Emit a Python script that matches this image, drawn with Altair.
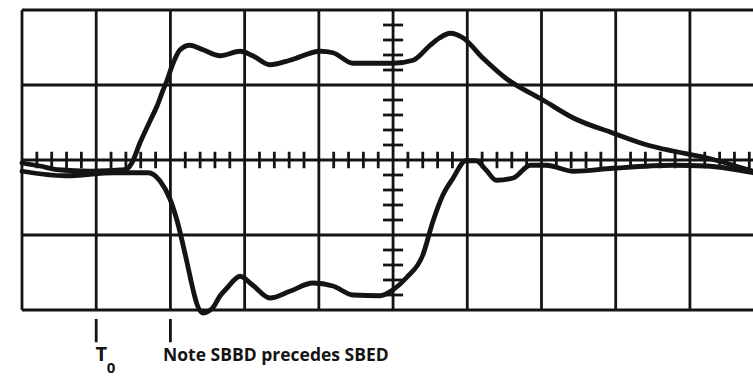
import altair as alt
import pandas as pd

# Oscilloscope screen in divisions: x 0..9.85 (right edge cut), y -2..2
upper_x = [0.00, 0.24, 0.49, 0.92, 1.39, 1.48, 1.59, 1.73, 1.82, 1.90, 1.95, 2.02, 2.13, 2.26,
           2.44, 2.67, 2.94, 3.11, 3.34, 3.61, 4.02, 4.19, 4.46, 4.82, 5.00, 5.27, 5.50, 5.63,
           5.77, 5.94, 6.21, 6.52, 7.02, 7.43, 7.96, 8.46, 8.77, 9.22, 9.85]
upper_y = [-0.04, -0.08, -0.13, -0.15, -0.13, -0.04, 0.23, 0.53, 0.72, 0.93, 1.05, 1.25, 1.47, 1.53,
           1.47, 1.39, 1.45, 1.39, 1.27, 1.33, 1.45, 1.43, 1.29, 1.29, 1.29, 1.33, 1.53, 1.63,
           1.69, 1.63, 1.36, 1.09, 0.80, 0.56, 0.36, 0.19, 0.12, 0.03, -0.15]

lower_x = [0.00, 0.58, 1.25, 1.70, 1.86, 1.99, 2.09, 2.22, 2.30, 2.36, 2.44, 2.57, 2.67, 2.76,
           2.94, 3.11, 3.34, 3.61, 3.92, 4.19, 4.46, 4.82, 5.00, 5.18, 5.40, 5.54, 5.67, 5.81,
           5.98, 6.12, 6.25, 6.39, 6.62, 6.85, 7.06, 7.43, 7.96, 8.77, 9.22, 9.85]
lower_y = [-0.15, -0.21, -0.17, -0.17, -0.28, -0.51, -0.81, -1.35, -1.71, -1.93, -2.04, -1.97, -1.81, -1.71,
           -1.55, -1.67, -1.84, -1.75, -1.64, -1.68, -1.80, -1.81, -1.73, -1.57, -1.27, -0.81, -0.47, -0.24,
           -0.01, -0.01, -0.13, -0.27, -0.24, -0.07, -0.07, -0.15, -0.11, -0.07, -0.08, -0.17]

marker_x = [1.0, 2.0]
t_label = ["T", "0"]
note_label = ["Note SBBD precedes SBED"]

XMAX = 9.85
xs = alt.Scale(domain=[0, XMAX], nice=False, zero=False)
ys = alt.Scale(domain=[-2, 2], nice=False, zero=False)
INK = "#141414"

traces = pd.DataFrame({
    "x": upper_x + lower_x,
    "y": upper_y + lower_y,
    "trace": ["upper"] * len(upper_x) + ["lower"] * len(lower_x),
})

vgrid = pd.DataFrame({"x": list(range(0, 10)), "y": -2.0, "y2": 2.0})
hgrid = pd.DataFrame({"y": [-2, -1, 0, 1, 2], "x": 0.0, "x2": XMAX})

hx = [round(k * 0.2, 2) for k in range(0, 50) if k % 5 != 0]
htick = pd.DataFrame({"x": hx, "y": -0.11, "y2": 0.11})
vy = [round(-2 + k * 0.2, 2) for k in range(0, 21) if k % 5 != 0]
vtick = pd.DataFrame({"y": vy, "x": 5 - 0.135, "x2": 5 + 0.135})

marks = pd.DataFrame({"x": marker_x, "y": -2.12, "y2": -2.43})
tlab = pd.DataFrame({"x": [1.07, 1.20], "y": [-2.68, -2.84], "t": t_label, "size": [20, 15]})
nlab = pd.DataFrame({"x": [1.90], "y": [-2.68], "t": note_label})

X = lambda f="x": alt.X(f"{f}:Q", scale=xs, axis=None)
Y = lambda f="y": alt.Y(f"{f}:Q", scale=ys, axis=None)

vg = alt.Chart(vgrid).mark_rule(color=INK, strokeWidth=2.8).encode(x=X(), y=Y(), y2="y2:Q")
hg = alt.Chart(hgrid).mark_rule(color=INK, strokeWidth=2.8).encode(y=Y(), x=X(), x2="x2:Q")
ht = alt.Chart(htick).mark_rule(color=INK, strokeWidth=2.8).encode(x=X(), y=Y(), y2="y2:Q")
vt = alt.Chart(vtick).mark_rule(color=INK, strokeWidth=2.8).encode(y=Y(), x=X(), x2="x2:Q")
mk = alt.Chart(marks).mark_rule(color=INK, strokeWidth=2.8, clip=False).encode(x=X(), y=Y(), y2="y2:Q")

tr = alt.Chart(traces).mark_line(color=INK, strokeWidth=4.8, interpolate="monotone",
                                  strokeCap="round", strokeJoin="round").encode(
    x=X(), y=Y(), detail="trace:N")

tt = alt.Chart(tlab).mark_text(color=INK, align="center", baseline="alphabetic",
                               font="Open Sans", fontWeight="bold", clip=False).encode(
    x=X(), y=Y(), text="t:N", size=alt.Size("size:Q", scale=None, legend=None))
nt = alt.Chart(nlab).mark_text(color=INK, align="left", baseline="alphabetic", fontSize=17.5,
                               font="Open Sans", fontWeight="bold", clip=False).encode(
    x=X(), y=Y(), text="t:N")

chart = alt.layer(vg, hg, ht, vt, tr, mk, tt, nt).properties(
    width=731, height=300,
    padding={"left": 22, "top": 10, "right": 0, "bottom": 68},
    autosize="none",
    background="white",
).configure_view(stroke=None)

chart.save("out.html", embed_options={"renderer": "svg", "actions": False})
